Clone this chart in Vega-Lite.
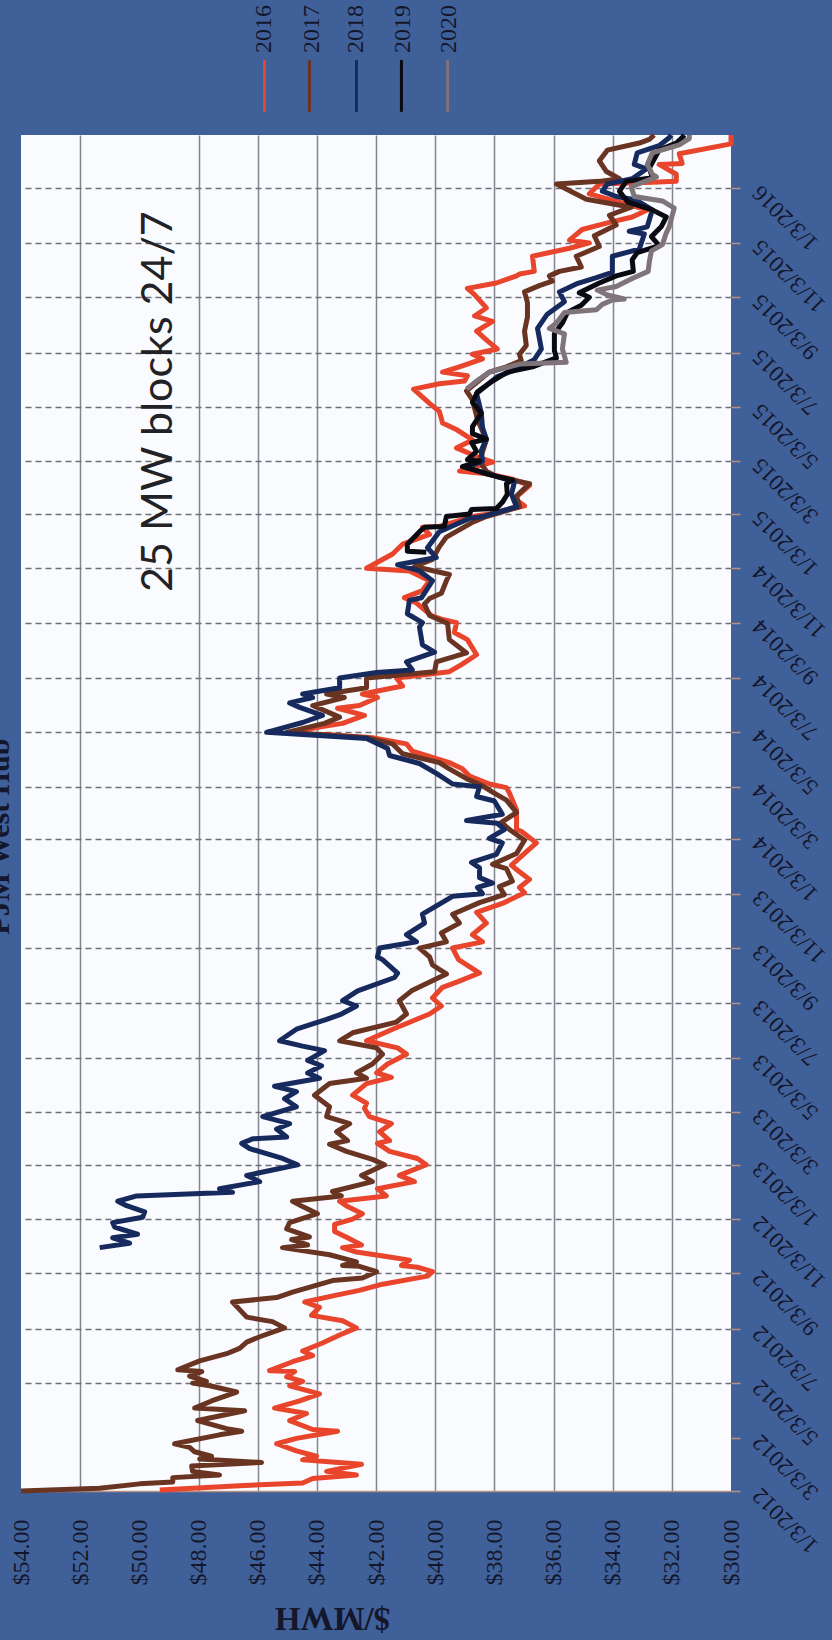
{"$schema":"https://vega.github.io/schema/vega-lite/v6.json","autosize":{"type":"none"},"padding":{"left":21,"top":135,"right":101,"bottom":149},"width":710,"height":1356,"background":"#40609a","config":{"view":{"fill":"#f9fbff","stroke":null}},
"datasets":{"guide":[{"s":"2016","x":45.77,"tx":45.77,"d1":"2016-03-29","d2":"2016-05-26","dt":"2016-06-03"},{"s":"2017","x":44.25,"tx":44.15,"d1":"2016-03-29","d2":"2016-05-26","dt":"2016-06-03"},{"s":"2018","x":42.66,"tx":42.66,"d1":"2016-03-29","d2":"2016-05-26","dt":"2016-06-03"},{"s":"2019","x":41.14,"tx":41.1,"d1":"2016-03-29","d2":"2016-05-26","dt":"2016-06-03"},{"s":"2020","x":39.58,"tx":39.52,"d1":"2016-03-29","d2":"2016-05-26","dt":"2016-06-03"}],"notes":[{"t":"25 MW blocks 24/7","x":48.91,"d":"2015-05-09"}],"head":[{"t":"PJM West Hub","x":54.41,"d":"2014-01-06"}],
"rows":[
{"s":"2016","d":"2012-01-04","v":49.31},{"s":"2016","d":"2012-01-09","v":46.61},{"s":"2016","d":"2012-01-12","v":44.48},{"s":"2016","d":"2012-01-17","v":44.14},{"s":"2016","d":"2012-01-21","v":42.66},{"s":"2016","d":"2012-01-25","v":43.67},{"s":"2016","d":"2012-02-02","v":42.49},{"s":"2016","d":"2012-02-07","v":44.48},{"s":"2016","d":"2012-02-11","v":44.01},{"s":"2016","d":"2012-02-17","v":44.69},{"s":"2016","d":"2012-02-25","v":45.36},{"s":"2016","d":"2012-03-02","v":44.69},{"s":"2016","d":"2012-03-10","v":43.3},{"s":"2016","d":"2012-03-12","v":44.14},{"s":"2016","d":"2012-03-22","v":44.92},{"s":"2016","d":"2012-03-30","v":44.35},{"s":"2016","d":"2012-04-05","v":45.43},{"s":"2016","d":"2012-04-13","v":44.58},{"s":"2016","d":"2012-04-21","v":43.91},{"s":"2016","d":"2012-04-30","v":44.92},{"s":"2016","d":"2012-05-05","v":44.48},{"s":"2016","d":"2012-05-10","v":45.02},{"s":"2016","d":"2012-05-16","v":44.75},{"s":"2016","d":"2012-05-17","v":45.6},{"s":"2016","d":"2012-05-27","v":44.82},{"s":"2016","d":"2012-06-03","v":44.14},{"s":"2016","d":"2012-06-08","v":44.48},{"s":"2016","d":"2012-06-17","v":43.81},{"s":"2016","d":"2012-06-26","v":43.23},{"s":"2016","d":"2012-07-04","v":42.66},{"s":"2016","d":"2012-07-12","v":43.13},{"s":"2016","d":"2012-07-18","v":44.18},{"s":"2016","d":"2012-07-27","v":43.91},{"s":"2016","d":"2012-08-02","v":44.41},{"s":"2016","d":"2012-08-10","v":43.3},{"s":"2016","d":"2012-08-15","v":42.56},{"s":"2016","d":"2012-08-22","v":41.78},{"s":"2016","d":"2012-08-31","v":40.26},{"s":"2016","d":"2012-09-05","v":40.09},{"s":"2016","d":"2012-09-10","v":40.6},{"s":"2016","d":"2012-09-12","v":41.14},{"s":"2016","d":"2012-09-18","v":40.87},{"s":"2016","d":"2012-09-22","v":41.65},{"s":"2016","d":"2012-09-27","v":42.66},{"s":"2016","d":"2012-10-02","v":43.13},{"s":"2016","d":"2012-10-05","v":42.49},{"s":"2016","d":"2012-10-13","v":42.96},{"s":"2016","d":"2012-10-20","v":43.4},{"s":"2016","d":"2012-10-28","v":43.4},{"s":"2016","d":"2012-11-03","v":42.79},{"s":"2016","d":"2012-11-09","v":42.46},{"s":"2016","d":"2012-11-17","v":42.96},{"s":"2016","d":"2012-11-23","v":43.23},{"s":"2016","d":"2012-11-29","v":41.65},{"s":"2016","d":"2012-12-07","v":41.95},{"s":"2016","d":"2012-12-15","v":40.7},{"s":"2016","d":"2012-12-22","v":41.21},{"s":"2016","d":"2013-01-03","v":40.3},{"s":"2016","d":"2013-01-10","v":40.6},{"s":"2016","d":"2013-01-18","v":41.54},{"s":"2016","d":"2013-01-27","v":41.95},{"s":"2016","d":"2013-01-30","v":41.54},{"s":"2016","d":"2013-02-09","v":41.88},{"s":"2016","d":"2013-02-18","v":41.48},{"s":"2016","d":"2013-02-26","v":42.22},{"s":"2016","d":"2013-03-07","v":42.39},{"s":"2016","d":"2013-03-13","v":42.32},{"s":"2016","d":"2013-03-22","v":42.79},{"s":"2016","d":"2013-04-04","v":42.32},{"s":"2016","d":"2013-04-11","v":41.48},{"s":"2016","d":"2013-04-16","v":41.98},{"s":"2016","d":"2013-04-26","v":41.61},{"s":"2016","d":"2013-05-07","v":40.97},{"s":"2016","d":"2013-05-14","v":41.27},{"s":"2016","d":"2013-05-22","v":42.32},{"s":"2016","d":"2013-06-04","v":41.44},{"s":"2016","d":"2013-06-21","v":40.19},{"s":"2016","d":"2013-06-30","v":39.79},{"s":"2016","d":"2013-07-09","v":40.09},{"s":"2016","d":"2013-07-21","v":39.75},{"s":"2016","d":"2013-07-27","v":39.25},{"s":"2016","d":"2013-08-06","v":38.5},{"s":"2016","d":"2013-08-21","v":39.21},{"s":"2016","d":"2013-09-03","v":39.41},{"s":"2016","d":"2013-09-10","v":38.4},{"s":"2016","d":"2013-09-18","v":38.74},{"s":"2016","d":"2013-10-01","v":38.27},{"s":"2016","d":"2013-10-13","v":38.6},{"s":"2016","d":"2013-10-24","v":37.66},{"s":"2016","d":"2013-11-04","v":36.98},{"s":"2016","d":"2013-11-10","v":37.15},{"s":"2016","d":"2013-11-19","v":36.81},{"s":"2016","d":"2013-11-30","v":37.25},{"s":"2016","d":"2013-12-05","v":37.42},{"s":"2016","d":"2013-12-30","v":36.58},{"s":"2016","d":"2014-01-12","v":37.09},{"s":"2016","d":"2014-01-14","v":37.25},{"s":"2016","d":"2014-02-05","v":37.25},{"s":"2016","d":"2014-02-24","v":37.49},{"s":"2016","d":"2014-03-02","v":37.59},{"s":"2016","d":"2014-03-06","v":38.17},{"s":"2016","d":"2014-03-15","v":38.84},{"s":"2016","d":"2014-03-23","v":39.08},{"s":"2016","d":"2014-03-30","v":39.52},{"s":"2016","d":"2014-04-12","v":40.77},{"s":"2016","d":"2014-04-20","v":40.97},{"s":"2016","d":"2014-04-27","v":42.12},{"s":"2016","d":"2014-05-03","v":44.82},{"s":"2016","d":"2014-05-09","v":43.91},{"s":"2016","d":"2014-05-13","v":43.13},{"s":"2016","d":"2014-05-22","v":42.39},{"s":"2016","d":"2014-05-30","v":43.3},{"s":"2016","d":"2014-06-02","v":42.56},{"s":"2016","d":"2014-06-11","v":41.95},{"s":"2016","d":"2014-06-15","v":42.46},{"s":"2016","d":"2014-06-24","v":41.1},{"s":"2016","d":"2014-07-03","v":41.31},{"s":"2016","d":"2014-07-10","v":39.52},{"s":"2016","d":"2014-07-18","v":39.11},{"s":"2016","d":"2014-07-29","v":38.6},{"s":"2016","d":"2014-08-15","v":38.91},{"s":"2016","d":"2014-08-23","v":39.35},{"s":"2016","d":"2014-09-03","v":39.28},{"s":"2016","d":"2014-09-07","v":39.79},{"s":"2016","d":"2014-09-11","v":40.13},{"s":"2016","d":"2014-09-25","v":40.63},{"s":"2016","d":"2014-10-01","v":41.04},{"s":"2016","d":"2014-10-09","v":40.43},{"s":"2016","d":"2014-10-20","v":40.19},{"s":"2016","d":"2014-10-31","v":40.87},{"s":"2016","d":"2014-11-03","v":42.32},{"s":"2016","d":"2014-11-19","v":41.44},{"s":"2016","d":"2014-11-30","v":41.1},{"s":"2016","d":"2014-12-11","v":40.19},{"s":"2016","d":"2014-12-19","v":40.43},{"s":"2016","d":"2014-12-20","v":39.86},{"s":"2016","d":"2014-12-31","v":38.74},{"s":"2016","d":"2015-01-03","v":38.17},{"s":"2016","d":"2015-01-12","v":36.98},{"s":"2016","d":"2015-01-20","v":37.32},{"s":"2016","d":"2015-02-04","v":36.81},{"s":"2016","d":"2015-02-11","v":37.39},{"s":"2016","d":"2015-02-17","v":38.27},{"s":"2016","d":"2015-02-20","v":39.18},{"s":"2016","d":"2015-03-02","v":38.06},{"s":"2016","d":"2015-03-07","v":38.5},{"s":"2016","d":"2015-03-18","v":39.28},{"s":"2016","d":"2015-03-27","v":38.74},{"s":"2016","d":"2015-04-07","v":39.25},{"s":"2016","d":"2015-04-15","v":39.75},{"s":"2016","d":"2015-04-28","v":39.86},{"s":"2016","d":"2015-05-07","v":40.19},{"s":"2016","d":"2015-05-23","v":40.73},{"s":"2016","d":"2015-05-29","v":39.86},{"s":"2016","d":"2015-06-01","v":39.01},{"s":"2016","d":"2015-06-07","v":38.91},{"s":"2016","d":"2015-06-11","v":39.75},{"s":"2016","d":"2015-06-17","v":39.18},{"s":"2016","d":"2015-06-26","v":38.4},{"s":"2016","d":"2015-07-01","v":38.74},{"s":"2016","d":"2015-07-07","v":37.9},{"s":"2016","d":"2015-07-16","v":38.23},{"s":"2016","d":"2015-07-27","v":38.6},{"s":"2016","d":"2015-08-07","v":38.06},{"s":"2016","d":"2015-08-13","v":38.67},{"s":"2016","d":"2015-08-22","v":38.27},{"s":"2016","d":"2015-09-06","v":38.67},{"s":"2016","d":"2015-09-13","v":38.91},{"s":"2016","d":"2015-09-19","v":37.93},{"s":"2016","d":"2015-09-27","v":37.25},{"s":"2016","d":"2015-09-29","v":37.15},{"s":"2016","d":"2015-10-02","v":36.65},{"s":"2016","d":"2015-10-19","v":36.71},{"s":"2016","d":"2015-10-28","v":35.46},{"s":"2016","d":"2015-11-03","v":34.79},{"s":"2016","d":"2015-11-06","v":35.46},{"s":"2016","d":"2015-11-18","v":35.03},{"s":"2016","d":"2015-11-26","v":34.11},{"s":"2016","d":"2015-12-02","v":33.34},{"s":"2016","d":"2015-12-10","v":32.83},{"s":"2016","d":"2015-12-28","v":34.79},{"s":"2016","d":"2016-01-08","v":34.45},{"s":"2016","d":"2016-01-10","v":32.66},{"s":"2016","d":"2016-01-11","v":31.85},{"s":"2016","d":"2016-01-19","v":31.85},{"s":"2016","d":"2016-01-30","v":32.43},{"s":"2016","d":"2016-01-31","v":31.65},{"s":"2016","d":"2016-02-11","v":31.75},{"s":"2016","d":"2016-02-22","v":30},{"s":"2016","d":"2016-03-03","v":30},
{"s":"2017","d":"2012-01-03","v":54},{"s":"2017","d":"2012-01-06","v":51.34},{"s":"2017","d":"2012-01-11","v":49.99},{"s":"2017","d":"2012-01-13","v":48.87},{"s":"2017","d":"2012-01-18","v":48.87},{"s":"2017","d":"2012-01-21","v":47.29},{"s":"2017","d":"2012-01-25","v":48.2},{"s":"2017","d":"2012-01-31","v":48.23},{"s":"2017","d":"2012-02-04","v":45.87},{"s":"2017","d":"2012-02-08","v":47.96},{"s":"2017","d":"2012-02-11","v":47.56},{"s":"2017","d":"2012-02-16","v":48.13},{"s":"2017","d":"2012-02-21","v":48.3},{"s":"2017","d":"2012-02-25","v":48.81},{"s":"2017","d":"2012-03-06","v":47.29},{"s":"2017","d":"2012-03-10","v":46.54},{"s":"2017","d":"2012-03-13","v":47.05},{"s":"2017","d":"2012-03-22","v":48.03},{"s":"2017","d":"2012-04-02","v":46.44},{"s":"2017","d":"2012-04-05","v":48.13},{"s":"2017","d":"2012-04-13","v":47.56},{"s":"2017","d":"2012-04-23","v":46.71},{"s":"2017","d":"2012-04-30","v":47.62},{"s":"2017","d":"2012-05-03","v":48.2},{"s":"2017","d":"2012-05-05","v":47.73},{"s":"2017","d":"2012-05-11","v":48.3},{"s":"2017","d":"2012-05-16","v":47.89},{"s":"2017","d":"2012-05-18","v":48.7},{"s":"2017","d":"2012-05-28","v":47.96},{"s":"2017","d":"2012-06-05","v":47.05},{"s":"2017","d":"2012-06-11","v":46.61},{"s":"2017","d":"2012-06-18","v":46.37},{"s":"2017","d":"2012-06-24","v":45.93},{"s":"2017","d":"2012-07-04","v":45.09},{"s":"2017","d":"2012-07-11","v":45.5},{"s":"2017","d":"2012-07-16","v":46.37},{"s":"2017","d":"2012-07-27","v":46.68},{"s":"2017","d":"2012-08-02","v":46.85},{"s":"2017","d":"2012-08-07","v":45.36},{"s":"2017","d":"2012-08-13","v":44.82},{"s":"2017","d":"2012-08-26","v":43.47},{"s":"2017","d":"2012-08-29","v":42.46},{"s":"2017","d":"2012-09-05","v":41.98},{"s":"2017","d":"2012-09-11","v":42.56},{"s":"2017","d":"2012-09-12","v":43.13},{"s":"2017","d":"2012-09-16","v":42.66},{"s":"2017","d":"2012-09-24","v":43.57},{"s":"2017","d":"2012-10-02","v":45.16},{"s":"2017","d":"2012-10-05","v":44.31},{"s":"2017","d":"2012-10-11","v":44.85},{"s":"2017","d":"2012-10-14","v":44.25},{"s":"2017","d":"2012-10-23","v":45.02},{"s":"2017","d":"2012-10-30","v":44.92},{"s":"2017","d":"2012-11-09","v":43.98},{"s":"2017","d":"2012-11-17","v":44.48},{"s":"2017","d":"2012-11-23","v":44.82},{"s":"2017","d":"2012-11-29","v":43.17},{"s":"2017","d":"2012-12-04","v":43.47},{"s":"2017","d":"2012-12-15","v":42.12},{"s":"2017","d":"2012-12-22","v":42.49},{"s":"2017","d":"2013-01-03","v":41.71},{"s":"2017","d":"2013-01-09","v":42.12},{"s":"2017","d":"2013-01-18","v":43},{"s":"2017","d":"2013-01-26","v":43.57},{"s":"2017","d":"2013-01-30","v":42.96},{"s":"2017","d":"2013-02-09","v":43.33},{"s":"2017","d":"2013-02-18","v":42.89},{"s":"2017","d":"2013-02-26","v":43.67},{"s":"2017","d":"2013-03-09","v":43.57},{"s":"2017","d":"2013-03-22","v":44.08},{"s":"2017","d":"2013-04-04","v":43.57},{"s":"2017","d":"2013-04-10","v":42.32},{"s":"2017","d":"2013-04-16","v":42.66},{"s":"2017","d":"2013-04-26","v":42.12},{"s":"2017","d":"2013-05-07","v":41.78},{"s":"2017","d":"2013-05-14","v":41.98},{"s":"2017","d":"2013-05-22","v":43.23},{"s":"2017","d":"2013-05-31","v":42.79},{"s":"2017","d":"2013-06-12","v":41.31},{"s":"2017","d":"2013-06-21","v":40.97},{"s":"2017","d":"2013-07-06","v":41.21},{"s":"2017","d":"2013-07-17","v":40.8},{"s":"2017","d":"2013-08-05","v":39.62},{"s":"2017","d":"2013-08-15","v":40.09},{"s":"2017","d":"2013-08-24","v":40.19},{"s":"2017","d":"2013-09-03","v":40.53},{"s":"2017","d":"2013-09-10","v":39.62},{"s":"2017","d":"2013-09-20","v":39.79},{"s":"2017","d":"2013-10-01","v":39.18},{"s":"2017","d":"2013-10-11","v":39.41},{"s":"2017","d":"2013-10-24","v":38.5},{"s":"2017","d":"2013-11-02","v":37.66},{"s":"2017","d":"2013-11-11","v":37.83},{"s":"2017","d":"2013-11-17","v":37.39},{"s":"2017","d":"2013-12-01","v":37.59},{"s":"2017","d":"2013-12-06","v":38.06},{"s":"2017","d":"2013-12-18","v":37.25},{"s":"2017","d":"2014-01-02","v":36.98},{"s":"2017","d":"2014-01-14","v":37.49},{"s":"2017","d":"2014-01-22","v":37.76},{"s":"2017","d":"2014-02-02","v":37.25},{"s":"2017","d":"2014-02-16","v":37.59},{"s":"2017","d":"2014-02-25","v":38.06},{"s":"2017","d":"2014-03-04","v":38.4},{"s":"2017","d":"2014-03-12","v":38.94},{"s":"2017","d":"2014-03-23","v":39.52},{"s":"2017","d":"2014-03-30","v":39.86},{"s":"2017","d":"2014-04-09","v":41.1},{"s":"2017","d":"2014-04-20","v":41.44},{"s":"2017","d":"2014-04-27","v":42.32},{"s":"2017","d":"2014-05-03","v":45.02},{"s":"2017","d":"2014-05-13","v":43.74},{"s":"2017","d":"2014-05-20","v":43.23},{"s":"2017","d":"2014-06-02","v":44.14},{"s":"2017","d":"2014-06-11","v":43.07},{"s":"2017","d":"2014-06-15","v":43.67},{"s":"2017","d":"2014-06-22","v":42.32},{"s":"2017","d":"2014-07-03","v":42.32},{"s":"2017","d":"2014-07-10","v":40.02},{"s":"2017","d":"2014-07-21","v":39.96},{"s":"2017","d":"2014-07-31","v":38.94},{"s":"2017","d":"2014-08-15","v":39.52},{"s":"2017","d":"2014-09-02","v":39.58},{"s":"2017","d":"2014-09-11","v":40.19},{"s":"2017","d":"2014-09-24","v":40.36},{"s":"2017","d":"2014-09-30","v":40.19},{"s":"2017","d":"2014-10-06","v":39.79},{"s":"2017","d":"2014-10-20","v":39.62},{"s":"2017","d":"2014-10-27","v":39.52},{"s":"2017","d":"2014-11-05","v":40.7},{"s":"2017","d":"2014-11-13","v":40.09},{"s":"2017","d":"2014-11-27","v":39.86},{"s":"2017","d":"2014-12-08","v":39.62},{"s":"2017","d":"2014-12-24","v":38.77},{"s":"2017","d":"2014-12-31","v":38.27},{"s":"2017","d":"2015-01-11","v":37.15},{"s":"2017","d":"2015-01-23","v":37.25},{"s":"2017","d":"2015-02-06","v":36.81},{"s":"2017","d":"2015-02-14","v":37.93},{"s":"2017","d":"2015-02-20","v":38.27},{"s":"2017","d":"2015-03-03","v":38.5},{"s":"2017","d":"2015-03-27","v":38.27},{"s":"2017","d":"2015-04-19","v":38.57},{"s":"2017","d":"2015-05-11","v":38.74},{"s":"2017","d":"2015-05-21","v":38.94},{"s":"2017","d":"2015-06-11","v":38.17},{"s":"2017","d":"2015-06-17","v":37.59},{"s":"2017","d":"2015-06-24","v":37.09},{"s":"2017","d":"2015-07-01","v":37.15},{"s":"2017","d":"2015-07-11","v":36.92},{"s":"2017","d":"2015-07-27","v":36.98},{"s":"2017","d":"2015-08-12","v":36.88},{"s":"2017","d":"2015-08-28","v":36.88},{"s":"2017","d":"2015-09-09","v":36.98},{"s":"2017","d":"2015-09-16","v":36.48},{"s":"2017","d":"2015-09-21","v":36.04},{"s":"2017","d":"2015-09-27","v":36.14},{"s":"2017","d":"2015-10-02","v":35.8},{"s":"2017","d":"2015-10-07","v":35.06},{"s":"2017","d":"2015-10-19","v":35.23},{"s":"2017","d":"2015-10-30","v":34.45},{"s":"2017","d":"2015-11-11","v":34.62},{"s":"2017","d":"2015-11-23","v":33.88},{"s":"2017","d":"2015-12-04","v":34.11},{"s":"2017","d":"2015-12-13","v":33.37},{"s":"2017","d":"2015-12-22","v":34.89},{"s":"2017","d":"2016-01-08","v":35.9},{"s":"2017","d":"2016-01-11","v":34.45},{"s":"2017","d":"2016-01-14","v":33.77},{"s":"2017","d":"2016-01-22","v":34.21},{"s":"2017","d":"2016-02-03","v":34.45},{"s":"2017","d":"2016-02-15","v":34.18},{"s":"2017","d":"2016-02-23","v":33.1},{"s":"2017","d":"2016-02-27","v":32.76},{"s":"2017","d":"2016-03-03","v":32.6},
{"s":"2018","d":"2012-10-02","v":51.34},{"s":"2018","d":"2012-10-07","v":50.33},{"s":"2018","d":"2012-10-13","v":50.9},{"s":"2018","d":"2012-10-17","v":50.06},{"s":"2018","d":"2012-10-25","v":50.83},{"s":"2018","d":"2012-10-30","v":50.9},{"s":"2018","d":"2012-11-05","v":49.89},{"s":"2018","d":"2012-11-11","v":49.82},{"s":"2018","d":"2012-11-18","v":50.43},{"s":"2018","d":"2012-11-23","v":50.73},{"s":"2018","d":"2012-11-29","v":50.09},{"s":"2018","d":"2012-12-03","v":46.85},{"s":"2018","d":"2012-12-07","v":47.29},{"s":"2018","d":"2012-12-15","v":45.93},{"s":"2018","d":"2012-12-22","v":46.37},{"s":"2018","d":"2013-01-03","v":44.65},{"s":"2018","d":"2013-01-10","v":45.16},{"s":"2018","d":"2013-01-21","v":46.27},{"s":"2018","d":"2013-01-27","v":46.54},{"s":"2018","d":"2013-02-01","v":46.17},{"s":"2018","d":"2013-02-03","v":45.02},{"s":"2018","d":"2013-02-12","v":45.36},{"s":"2018","d":"2013-02-18","v":44.92},{"s":"2018","d":"2013-02-26","v":45.83},{"s":"2018","d":"2013-03-09","v":44.69},{"s":"2018","d":"2013-03-18","v":45.09},{"s":"2018","d":"2013-03-26","v":44.69},{"s":"2018","d":"2013-04-01","v":45.43},{"s":"2018","d":"2013-04-10","v":43.91},{"s":"2018","d":"2013-04-16","v":44.31},{"s":"2018","d":"2013-04-24","v":43.84},{"s":"2018","d":"2013-04-30","v":44.31},{"s":"2018","d":"2013-05-11","v":43.74},{"s":"2018","d":"2013-05-16","v":44.48},{"s":"2018","d":"2013-05-22","v":45.26},{"s":"2018","d":"2013-06-04","v":44.69},{"s":"2018","d":"2013-06-15","v":43.67},{"s":"2018","d":"2013-06-21","v":43.17},{"s":"2018","d":"2013-06-30","v":42.66},{"s":"2018","d":"2013-07-06","v":43.13},{"s":"2018","d":"2013-07-17","v":42.62},{"s":"2018","d":"2013-08-01","v":41.37},{"s":"2018","d":"2013-08-06","v":41.27},{"s":"2018","d":"2013-08-21","v":41.78},{"s":"2018","d":"2013-08-24","v":41.95},{"s":"2018","d":"2013-09-03","v":41.88},{"s":"2018","d":"2013-09-10","v":40.63},{"s":"2018","d":"2013-09-18","v":40.97},{"s":"2018","d":"2013-10-01","v":40.36},{"s":"2018","d":"2013-10-11","v":40.43},{"s":"2018","d":"2013-10-31","v":39.41},{"s":"2018","d":"2013-11-03","v":38.4},{"s":"2018","d":"2013-11-10","v":38.57},{"s":"2018","d":"2013-11-15","v":38.06},{"s":"2018","d":"2013-11-21","v":38.5},{"s":"2018","d":"2013-12-02","v":38.5},{"s":"2018","d":"2013-12-08","v":38.77},{"s":"2018","d":"2013-12-17","v":37.93},{"s":"2018","d":"2013-12-30","v":37.73},{"s":"2018","d":"2014-01-04","v":38.17},{"s":"2018","d":"2014-01-14","v":37.66},{"s":"2018","d":"2014-01-21","v":37.9},{"s":"2018","d":"2014-01-24","v":38.94},{"s":"2018","d":"2014-01-31","v":37.73},{"s":"2018","d":"2014-02-15","v":38},{"s":"2018","d":"2014-02-20","v":38.6},{"s":"2018","d":"2014-03-03","v":38.5},{"s":"2018","d":"2014-03-06","v":39.41},{"s":"2018","d":"2014-03-18","v":39.96},{"s":"2018","d":"2014-03-29","v":40.53},{"s":"2018","d":"2014-04-07","v":41.54},{"s":"2018","d":"2014-04-15","v":41.61},{"s":"2018","d":"2014-04-26","v":42.32},{"s":"2018","d":"2014-05-03","v":45.7},{"s":"2018","d":"2014-05-14","v":44.48},{"s":"2018","d":"2014-05-22","v":43.81},{"s":"2018","d":"2014-05-31","v":44.58},{"s":"2018","d":"2014-06-05","v":44.92},{"s":"2018","d":"2014-06-11","v":44.14},{"s":"2018","d":"2014-06-15","v":44.48},{"s":"2018","d":"2014-06-22","v":43.23},{"s":"2018","d":"2014-07-03","v":43.23},{"s":"2018","d":"2014-07-09","v":41.98},{"s":"2018","d":"2014-07-12","v":40.77},{"s":"2018","d":"2014-07-21","v":40.97},{"s":"2018","d":"2014-08-01","v":40.02},{"s":"2018","d":"2014-08-09","v":40.43},{"s":"2018","d":"2014-08-29","v":40.53},{"s":"2018","d":"2014-09-03","v":40.43},{"s":"2018","d":"2014-09-13","v":40.94},{"s":"2018","d":"2014-09-28","v":40.87},{"s":"2018","d":"2014-10-01","v":40.46},{"s":"2018","d":"2014-10-20","v":40.09},{"s":"2018","d":"2014-10-31","v":40.53},{"s":"2018","d":"2014-11-07","v":41.27},{"s":"2018","d":"2014-11-15","v":39.96},{"s":"2018","d":"2014-11-26","v":40.26},{"s":"2018","d":"2014-12-14","v":39.86},{"s":"2018","d":"2014-12-29","v":38.84},{"s":"2018","d":"2014-12-31","v":38.4},{"s":"2018","d":"2015-01-11","v":37.25},{"s":"2018","d":"2015-01-25","v":37.42},{"s":"2018","d":"2015-02-08","v":37.32},{"s":"2018","d":"2015-02-14","v":37.93},{"s":"2018","d":"2015-02-24","v":38.94},{"s":"2018","d":"2015-03-03","v":38.4},{"s":"2018","d":"2015-03-15","v":38.44},{"s":"2018","d":"2015-03-28","v":38.27},{"s":"2018","d":"2015-04-10","v":38.4},{"s":"2018","d":"2015-04-26","v":38.44},{"s":"2018","d":"2015-05-18","v":38.6},{"s":"2018","d":"2015-06-06","v":37.9},{"s":"2018","d":"2015-06-12","v":37.42},{"s":"2018","d":"2015-06-25","v":36.65},{"s":"2018","d":"2015-07-07","v":36.41},{"s":"2018","d":"2015-07-30","v":36.54},{"s":"2018","d":"2015-08-15","v":36.21},{"s":"2018","d":"2015-08-29","v":35.63},{"s":"2018","d":"2015-09-09","v":35.8},{"s":"2018","d":"2015-09-18","v":35.23},{"s":"2018","d":"2015-09-25","v":34.55},{"s":"2018","d":"2015-10-01","v":34.01},{"s":"2018","d":"2015-10-19","v":34.01},{"s":"2018","d":"2015-10-27","v":33.1},{"s":"2018","d":"2015-11-13","v":32.93},{"s":"2018","d":"2015-11-16","v":33.44},{"s":"2018","d":"2015-11-21","v":32.83},{"s":"2018","d":"2015-12-10","v":32.66},{"s":"2018","d":"2015-12-21","v":33.2},{"s":"2018","d":"2015-12-25","v":33.88},{"s":"2018","d":"2015-12-31","v":34.35},{"s":"2018","d":"2016-01-08","v":34.18},{"s":"2018","d":"2016-01-14","v":33.34},{"s":"2018","d":"2016-01-25","v":32.86},{"s":"2018","d":"2016-01-30","v":33.27},{"s":"2018","d":"2016-02-12","v":33.17},{"s":"2018","d":"2016-02-20","v":32.43},{"s":"2018","d":"2016-02-29","v":32.09},{"s":"2018","d":"2016-03-03","v":32.02},
{"s":"2019","d":"2014-11-21","v":40.3},{"s":"2019","d":"2014-11-22","v":40.94},{"s":"2019","d":"2014-11-30","v":40.94},{"s":"2019","d":"2014-12-14","v":40.53},{"s":"2019","d":"2014-12-19","v":40.36},{"s":"2019","d":"2014-12-20","v":39.69},{"s":"2019","d":"2014-12-31","v":39.62},{"s":"2019","d":"2015-01-03","v":38.84},{"s":"2019","d":"2015-01-08","v":38.77},{"s":"2019","d":"2015-01-09","v":37.93},{"s":"2019","d":"2015-01-16","v":37.73},{"s":"2019","d":"2015-01-25","v":37.56},{"s":"2019","d":"2015-02-06","v":37.59},{"s":"2019","d":"2015-02-10","v":37.39},{"s":"2019","d":"2015-02-16","v":38.17},{"s":"2019","d":"2015-02-22","v":38.74},{"s":"2019","d":"2015-02-25","v":39.08},{"s":"2019","d":"2015-03-03","v":38.5},{"s":"2019","d":"2015-03-05","v":38.91},{"s":"2019","d":"2015-03-14","v":38.6},{"s":"2019","d":"2015-03-24","v":38.77},{"s":"2019","d":"2015-03-28","v":38.27},{"s":"2019","d":"2015-04-03","v":38.74},{"s":"2019","d":"2015-04-11","v":38.74},{"s":"2019","d":"2015-04-26","v":38.44},{"s":"2019","d":"2015-05-08","v":38.74},{"s":"2019","d":"2015-05-20","v":38.57},{"s":"2019","d":"2015-06-01","v":38.06},{"s":"2019","d":"2015-06-11","v":37.56},{"s":"2019","d":"2015-06-17","v":36.71},{"s":"2019","d":"2015-06-27","v":35.9},{"s":"2019","d":"2015-07-05","v":35.97},{"s":"2019","d":"2015-07-24","v":35.97},{"s":"2019","d":"2015-08-05","v":35.7},{"s":"2019","d":"2015-08-17","v":35.53},{"s":"2019","d":"2015-08-25","v":35.06},{"s":"2019","d":"2015-09-03","v":34.79},{"s":"2019","d":"2015-09-08","v":35.13},{"s":"2019","d":"2015-09-19","v":34.45},{"s":"2019","d":"2015-09-27","v":33.88},{"s":"2019","d":"2015-10-02","v":33.3},{"s":"2019","d":"2015-10-15","v":33.34},{"s":"2019","d":"2015-10-23","v":33.17},{"s":"2019","d":"2015-10-31","v":32.43},{"s":"2019","d":"2015-11-10","v":32.69},{"s":"2019","d":"2015-11-21","v":32.36},{"s":"2019","d":"2015-12-02","v":32.19},{"s":"2019","d":"2015-12-10","v":32.66},{"s":"2019","d":"2015-12-19","v":33.5},{"s":"2019","d":"2015-12-31","v":33.77},{"s":"2019","d":"2016-01-11","v":33.54},{"s":"2019","d":"2016-01-15","v":32.66},{"s":"2019","d":"2016-01-26","v":32.76},{"s":"2019","d":"2016-02-15","v":32.43},{"s":"2019","d":"2016-02-23","v":31.85},{"s":"2019","d":"2016-02-29","v":31.65},{"s":"2019","d":"2016-03-03","v":31.58},
{"s":"2020","d":"2015-05-23","v":38.94},{"s":"2020","d":"2015-06-01","v":38.6},{"s":"2020","d":"2015-06-11","v":38.17},{"s":"2020","d":"2015-06-20","v":37.15},{"s":"2020","d":"2015-06-22","v":35.57},{"s":"2020","d":"2015-07-07","v":35.7},{"s":"2020","d":"2015-07-24","v":35.63},{"s":"2020","d":"2015-07-30","v":36.14},{"s":"2020","d":"2015-08-05","v":35.9},{"s":"2020","d":"2015-08-17","v":35.63},{"s":"2020","d":"2015-08-20","v":34.55},{"s":"2020","d":"2015-08-26","v":34.35},{"s":"2020","d":"2015-08-31","v":34.01},{"s":"2020","d":"2015-09-01","v":33.61},{"s":"2020","d":"2015-09-06","v":34.21},{"s":"2020","d":"2015-09-11","v":34.52},{"s":"2020","d":"2015-09-15","v":33.88},{"s":"2020","d":"2015-09-24","v":33.34},{"s":"2020","d":"2015-10-02","v":32.8},{"s":"2020","d":"2015-10-13","v":32.76},{"s":"2020","d":"2015-10-25","v":32.69},{"s":"2020","d":"2015-11-01","v":32.32},{"s":"2020","d":"2015-11-14","v":32.19},{"s":"2020","d":"2015-11-21","v":32.09},{"s":"2020","d":"2015-12-12","v":31.92},{"s":"2020","d":"2015-12-20","v":32.32},{"s":"2020","d":"2015-12-25","v":33.27},{"s":"2020","d":"2016-01-05","v":33.37},{"s":"2020","d":"2016-01-16","v":32.52},{"s":"2020","d":"2016-01-19","v":32.66},{"s":"2020","d":"2016-01-30","v":32.83},{"s":"2020","d":"2016-02-12","v":32.66},{"s":"2020","d":"2016-02-21","v":31.75},{"s":"2020","d":"2016-02-28","v":31.41},{"s":"2020","d":"2016-03-03","v":31.41}
]},
"layer":[
{"data":{"name":"rows"},"mark":{"type":"line","orient":"horizontal","strokeWidth":5,"strokeJoin":"round"},
"encoding":{"x":{"field":"v","type":"quantitative","scale":{"domain":[54,30],"nice":false,"zero":false},
"axis":{"title":"$/MWH","titleFont":"Liberation Serif","titleFontWeight":"bold","titleFontSize":33,"titleColor":"#14162a","titleAngle":180,"titleX":311,"titleY":126,"titleBaseline":"middle","values":[54,52,50,48,46,44,42,40,38,36,34,32,30],"format":"$.2f","labelFont":"Liberation Serif","labelFontSize":24,"labelColor":"#14162a","labelAngle":270,"labelAlign":"right","labelBaseline":"middle","labelPadding":28,"labelOverlap":false,"labelFlush":false,"labelBound":false,"ticks":false,"domainColor":"#b89080","domainWidth":1.5,"grid":true,"gridColor":"#85858f","gridWidth":1.5,"gridOpacity":{"condition":{"test":"datum.value==50||datum.value==54||datum.value==30","value":0},"value":1}}},
"y":{"field":"d","type":"temporal","scale":{"type":"utc","domain":["2012-01-03","2016-03-03"],"nice":false},
"axis":{"orient":"right","title":null,"values":["2012-01-03","2012-03-03","2012-05-03","2012-07-03","2012-09-03","2012-11-03","2013-01-03","2013-03-03","2013-05-03","2013-07-03","2013-09-03","2013-11-03","2014-01-03","2014-03-03","2014-05-03","2014-07-03","2014-09-03","2014-11-03","2015-01-03","2015-03-03","2015-05-03","2015-07-03","2015-09-03","2015-11-03","2016-01-03"],"labelExpr":"utcFormat(datum.value,'%-m/%-d/%Y')","labelFont":"Liberation Serif","labelFontSize":23,"labelColor":"#14162a","labelAngle":225,"labelAlign":"right","labelBaseline":"middle","labelPadding":16,"labelOverlap":false,"labelFlush":false,"labelBound":false,"tickSize":9,"tickColor":"#b89080","tickWidth":1.5,"domain":false,"grid":true,"gridColor":"#6f6f78","gridWidth":1.5,"gridDash":[6,4],"gridOpacity":{"condition":{"test":"utcyear(datum.value)==2012&&utcmonth(datum.value)<=2","value":0},"value":1}}},
"color":{"field":"s","type":"nominal","legend":null,"scale":{"domain":["2016","2017","2018","2019","2020"],"range":["#e8452c","#6a3422","#172a5e","#0a0a12","#7e747a"]}},
"order":{"value":null}}},
{"data":{"name":"guide"},"mark":{"type":"rule","strokeWidth":3},"encoding":{"x":{"field":"x","type":"quantitative"},"y":{"field":"d1","type":"temporal"},"y2":{"field":"d2"},"color":{"field":"s","type":"nominal","legend":null}}},
{"data":{"name":"guide"},"mark":{"type":"text","angle":270,"align":"left","baseline":"middle","font":"Liberation Serif","fontSize":24,"fill":"#14162a"},"encoding":{"x":{"field":"tx","type":"quantitative"},"y":{"field":"dt","type":"temporal"},"text":{"field":"s"}}},
{"data":{"name":"notes"},"mark":{"type":"text","angle":270,"align":"center","baseline":"alphabetic","font":"Lato","fontSize":43,"fill":"#222226"},"encoding":{"x":{"field":"x","type":"quantitative"},"y":{"field":"d","type":"temporal"},"text":{"field":"t"}}},
{"data":{"name":"head"},"mark":{"type":"text","angle":270,"align":"center","baseline":"alphabetic","font":"Liberation Serif","fontWeight":"bold","fontSize":30,"fill":"#14162a"},"encoding":{"x":{"field":"x","type":"quantitative"},"y":{"field":"d","type":"temporal"},"text":{"field":"t"}}}
]}
